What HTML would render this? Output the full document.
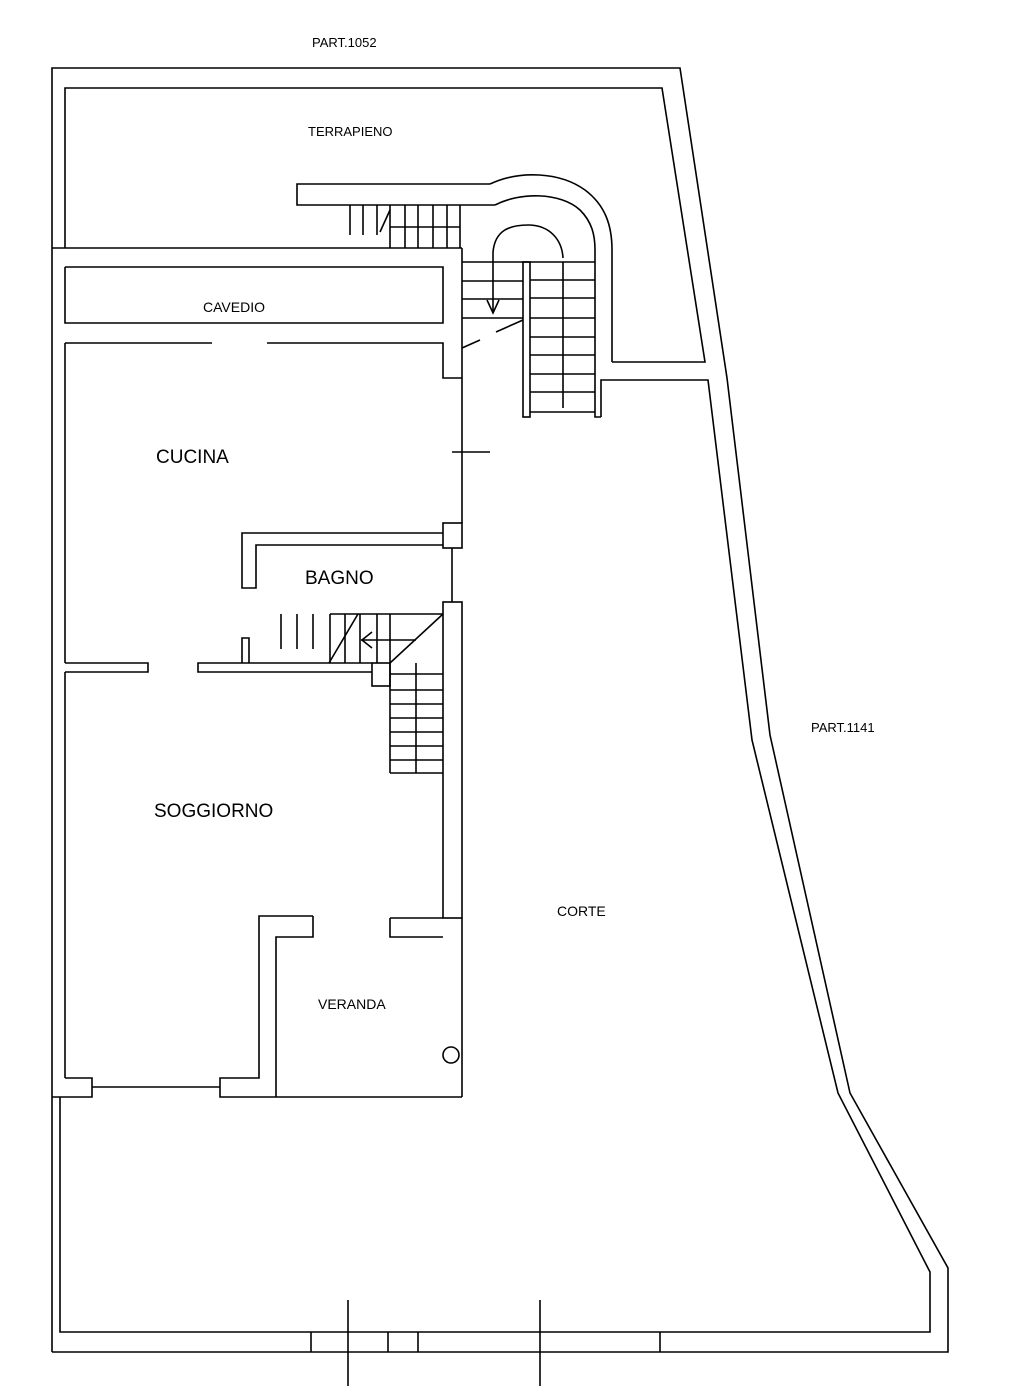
<!DOCTYPE html>
<html><head><meta charset="utf-8"><style>
html,body{margin:0;padding:0;background:#fff}
svg{display:block}
text{font-family:"Liberation Sans",Arial,sans-serif;fill:#000}
</style></head><body>
<svg width="1010" height="1388" viewBox="0 0 1010 1388" xmlns="http://www.w3.org/2000/svg">
<g fill="none" stroke="#000" stroke-width="1.6">
<!-- outer boundary -->
<polyline points="52,1352 52,68 680,68 727,378 770,735 850,1093 948,1268 948,1352 52,1352"/>
<!-- terrapieno inner -->
<polyline points="65,248 65,88 662,88 705,362 612,362"/>
<!-- corte inner -->
<polyline points="601,417 601,380 708,380 752,740 838,1093 930,1272 930,1332 60,1332 60,1097"/>
<line x1="52" y1="248" x2="462" y2="248"/>
<!-- bottom wall details -->
<line x1="311" y1="1332" x2="311" y2="1352"/>
<line x1="388" y1="1332" x2="388" y2="1352"/>
<line x1="418" y1="1332" x2="418" y2="1352"/>
<line x1="660" y1="1332" x2="660" y2="1352"/>
<line x1="348" y1="1300" x2="348" y2="1386"/>
<line x1="540" y1="1300" x2="540" y2="1386"/>
<!-- cavedio -->
<polyline points="65,267 443,267 443,323 65,323 65,267"/>
<polyline points="65,343 212,343 212,343"/>
<line x1="212" y1="343" x2="212" y2="343"/>
<polyline points="267,343 443,343 443,378 462,378"/>
<line x1="462" y1="248" x2="462" y2="523"/>
<line x1="452" y1="452" x2="490" y2="452"/>
<rect x="443" y="523" width="19" height="25"/>
<line x1="452" y1="548" x2="452" y2="602"/>
<rect x="443" y="602" width="19" height="316"/>
<line x1="462" y1="918" x2="462" y2="1097"/>
<line x1="65" y1="343" x2="65" y2="663"/>
<!-- bagno walls -->
<polyline points="443,533 242,533 242,588 256,588 256,545 443,545"/>
<polyline points="242,663 242,638 249,638 249,663"/>
<polyline points="65,663 148,663 148,672 65,672"/>
<polyline points="372,663 198,663 198,672 372,672"/>
<rect x="372" y="663" width="18" height="23"/>
<!-- lower stair -->
<line x1="390" y1="663" x2="390" y2="773"/>
<line x1="416" y1="663" x2="416" y2="773"/>
<line x1="390" y1="773" x2="443" y2="773"/>
<line x1="390" y1="690" x2="443" y2="690"/>
<line x1="390" y1="704" x2="443" y2="704"/>
<line x1="390" y1="718" x2="443" y2="718"/>
<line x1="390" y1="732" x2="443" y2="732"/>
<line x1="390" y1="746" x2="443" y2="746"/>
<line x1="390" y1="760" x2="443" y2="760"/>
<line x1="390" y1="674" x2="443" y2="674"/>
<line x1="330" y1="614" x2="443" y2="614"/>
<line x1="361" y1="640" x2="416" y2="640"/>
<line x1="281" y1="614" x2="281" y2="649"/><line x1="297" y1="614" x2="297" y2="649"/><line x1="313" y1="614" x2="313" y2="649"/>
<line x1="330" y1="614" x2="330" y2="663"/><line x1="345" y1="614" x2="345" y2="663"/><line x1="360" y1="614" x2="360" y2="663"/>
<line x1="377" y1="614" x2="377" y2="663"/><line x1="390" y1="614" x2="390" y2="663"/>
<line x1="329" y1="663" x2="358" y2="614"/>
<line x1="390" y1="663" x2="443" y2="614"/>
<polyline points="372,632 362,640 372,648"/>
<!-- soggiorno / veranda -->
<line x1="65" y1="672" x2="65" y2="1078"/>
<polyline points="390,918 390,937 443,937"/>
<line x1="390" y1="918" x2="443" y2="918"/>
<polyline points="313,916 259,916 259,1078 220,1078 220,1097 462,1097"/>
<polyline points="313,916 313,937 276,937 276,1097"/>
<polyline points="65,1078 92,1078 92,1097 52,1097"/>
<line x1="92" y1="1087" x2="220" y2="1087"/>
<circle cx="451" cy="1055" r="8"/>
<!-- top stairs -->
<polyline points="490,184 297,184 297,205 495,205"/>
<path d="M490,184 C520,170 560,172 585,190 C605,205 612,225 612,250 L612,362"/>
<path d="M495,205 C520,192 560,192 580,210 C592,222 595,235 595,250 L595,417 L601,417"/>
<path d="M493,252 C495,230 510,225 528,225 C550,225 562,240 563,258"/>
<line x1="462" y1="262" x2="595" y2="262"/>
<rect x="523" y="262" width="7" height="155"/>
<line x1="563" y1="262" x2="563" y2="408"/>
<line x1="530" y1="280" x2="595" y2="280"/><line x1="530" y1="298" x2="595" y2="298"/>
<line x1="530" y1="318" x2="595" y2="318"/><line x1="530" y1="337" x2="595" y2="337"/>
<line x1="530" y1="355" x2="595" y2="355"/><line x1="530" y1="374" x2="595" y2="374"/>
<line x1="530" y1="392" x2="595" y2="392"/><line x1="530" y1="412" x2="595" y2="412"/>
<line x1="462" y1="281" x2="523" y2="281"/><line x1="462" y1="299" x2="523" y2="299"/>
<line x1="462" y1="318" x2="523" y2="318"/>
<line x1="493" y1="252" x2="493" y2="313"/>
<polyline points="487,300 493,313 499,300"/>
<line x1="462" y1="348" x2="480" y2="340"/>
<line x1="496" y1="332" x2="523" y2="320"/>
<line x1="350" y1="205" x2="350" y2="235"/><line x1="363" y1="205" x2="363" y2="235"/>
<line x1="377" y1="205" x2="377" y2="235"/><line x1="390" y1="205" x2="390" y2="248"/>
<line x1="405" y1="205" x2="405" y2="248"/><line x1="418" y1="205" x2="418" y2="248"/>
<line x1="433" y1="205" x2="433" y2="248"/><line x1="447" y1="205" x2="447" y2="248"/>
<line x1="460" y1="205" x2="460" y2="248"/>
<line x1="390" y1="227" x2="460" y2="227"/>
<line x1="380" y1="232" x2="390" y2="210"/>
</g>
<text x="312" y="47" font-size="13">PART.1052</text>
<text x="308" y="136" font-size="13">TERRAPIENO</text>
<text x="203" y="312" font-size="14">CAVEDIO</text>
<text x="156" y="463" font-size="19">CUCINA</text>
<text x="305" y="584" font-size="19">BAGNO</text>
<text x="154" y="817" font-size="19">SOGGIORNO</text>
<text x="557" y="916" font-size="14">CORTE</text>
<text x="318" y="1009" font-size="14">VERANDA</text>
<text x="811" y="732" font-size="13">PART.1141</text>
</svg>
</body></html>
